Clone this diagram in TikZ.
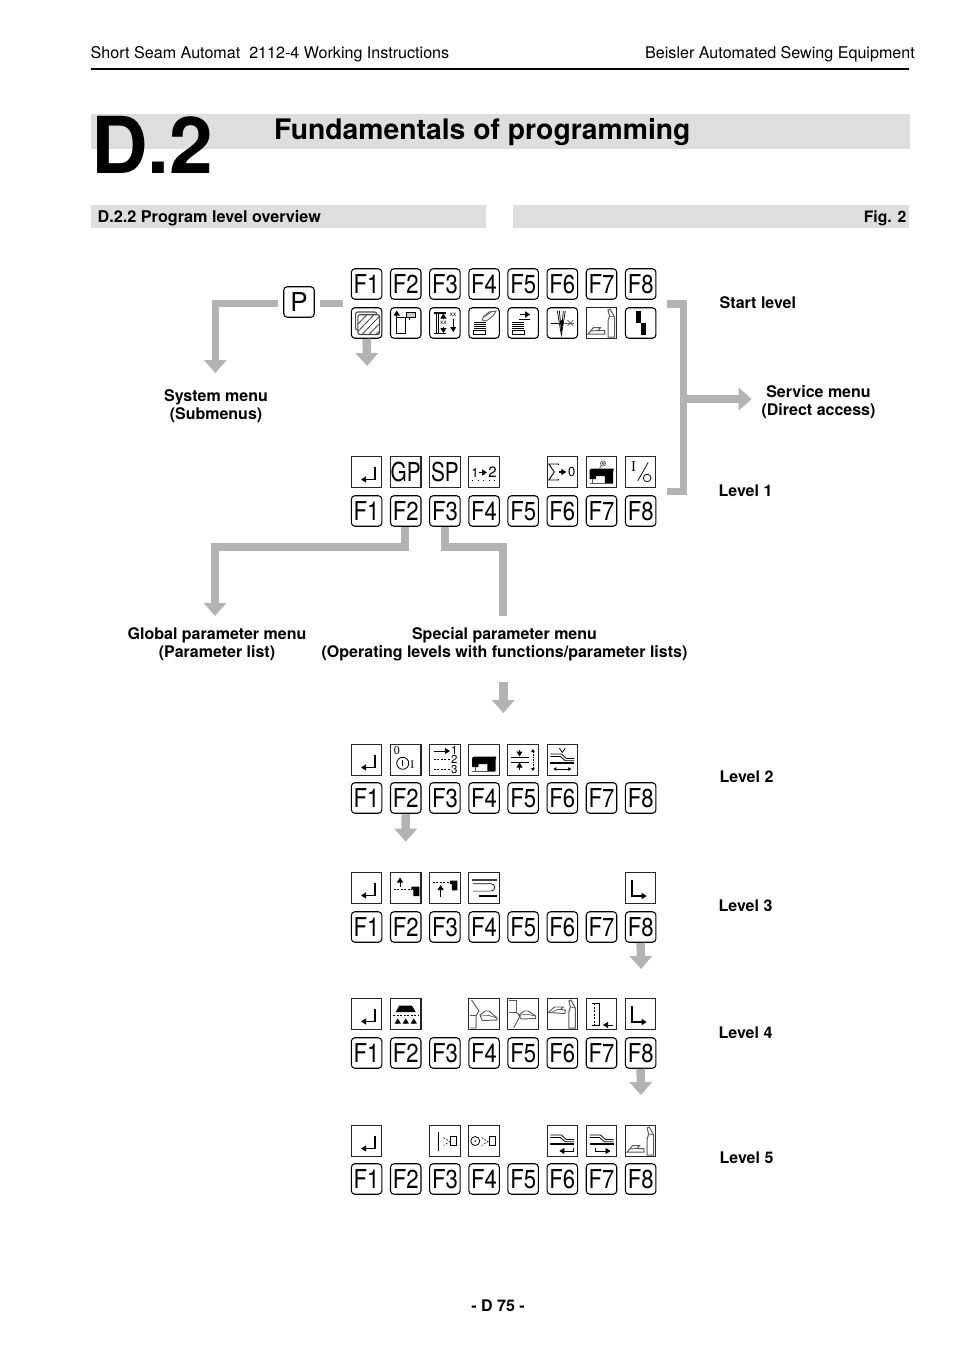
\documentclass[tikz,border=0pt]{standalone}
\usepackage{fontspec}
\usepackage{graphicx}
\setmainfont{TeX Gyre Heros}
\newfontfamily\serifico{Liberation Serif}
\usetikzlibrary{arrows.meta}
\definecolor{barcol}{HTML}{B3B3B3}
\definecolor{bandcol}{HTML}{DEDEDE}
\definecolor{thincol}{HTML}{5A5A5A}
\newcounter{lblno}
\newcommand\lab[4][]{\stepcounter{lblno}\node[name=lbl\arabic{lblno},inner sep=0pt,font=\fontsize{#2}{#2}\selectfont,#1] at (#3) {#4};}
\tikzset{
  fkey/.style={draw=black,line width=1.05pt,rounded corners=3.5pt,minimum width=30.5pt,minimum height=30.5pt,inner sep=0pt,font=\fontsize{26}{26}\selectfont},
  iconrd/.style={draw=black,line width=1.05pt,rounded corners=3.5pt,minimum width=30.5pt,minimum height=30.5pt,inner sep=0pt},
  iconsq/.style={draw=black!85,line width=1.05pt,minimum width=30.5pt,minimum height=30.5pt,inner sep=0pt,font=\fontsize{26}{26}\selectfont},
  graybar/.style={draw=barcol,line width=8pt},
  grayarrow/.style={draw=barcol,line width=8.5pt,-{Triangle[width=22pt,length=13pt,fill=barcol]}},
  sarr/.style={-{Triangle[width=6pt,length=5pt]}},
  hdr/.style={anchor=base west,inner sep=0pt,font=\fontsize{16.1}{19}\selectfont},
  lvl/.style={inner sep=0pt,align=center,font=\bfseries\fontsize{16}{18}\selectfont},
  thn/.style={line width=0.75pt},
  mid/.style={line width=1.25pt},
  gth/.style={draw=thincol,line width=0.85pt},
  dsh/.style={line width=0.65pt,dash pattern=on 2pt off 1.5pt},
}
\newcommand\keyrow[2]{\foreach \n in {1,...,8}{\node[fkey,name=k#1f\n] at ({366.6+39.15*(\n-1)},#2) {\scalebox{.85}[1]{F\n}};}}
\newcommand\ico[5]{\node[#4,name=i#1f#2] at ({366.6+39.15*(#2-1)},#3) {};\begin{scope}[shift={(i#1f#2.center)}]#5\end{scope}}
\newcommand\ITxt[5]{\node[#4,name=i#1f#2] at ({366.6+39.15*(#2-1)},#3) {\scalebox{.8}[1]{#5}};}
% icons
\newcommand\IEnter{\draw[mid,sarr] (8.3,-5.5)--(8.3,7.5)--(-5.5,7.5);}
\newcommand\INext{\draw[mid,sarr] (-8.7,-8)--(-8.7,8)--(6,8);}
\newcommand\IHatch{\draw[line width=1.1pt,draw=black!70,rounded corners=2pt] (-11,-11) rectangle (10,7);
  \fill[white,rounded corners=2pt] (-8.7,-8.3) rectangle (13,11.5);
  \draw[line width=1.1pt,draw=black!70,rounded corners=2pt] (-8.7,-8.3) rectangle (13,11.5);
  \begin{scope}\clip (-8.7,-8.3) rectangle (13,11.5);
  \foreach \d in {-12,-5,2,9,16}{\draw[line width=.8pt,black!75] (\d-7,12)--(\d+13,-9);}\end{scope}}
\newcommand\IFrame{\draw[thn] (-9,10.7)--(-0.7,10.7)--(-0.7,-6)--(-9,-6);\draw[mid,sarr] (-9,11)--(-9,-12.5);
  \draw[thn,fill=gray!40] (1,-10.5) rectangle (9.5,-5.5);\draw[thn] (4,-5.5)--(4,-3);}
\newcommand\IHeight{\draw[mid] (-11,-10)--(1,-10);\draw[line width=1.5pt] (-11,10.5)--(1,10.5);\draw[thn] (-8.5,-10)--(-8.5,10.5);\draw[thn] (-7,-10)--(-7,10.5);
  \draw[thn,sarr] (-1.5,-4)--(-1.5,-9.5);\draw[thn,sarr] (-1.5,4)--(-1.5,10);
  \lab{6.5}{-1.5,0}{xx}\lab{6.5}{8.3,-8}{xx}\draw[thn,sarr] (8.3,-4)--(8.3,9);}
\newcommand\IStack{\foreach \yy in {-1,1,3,5}{\draw[line width=.6pt] (-10.5,\yy)--(1.5,\yy);}\draw[thn] (-10.5,7) rectangle (1,11);}
\newcommand\IStackHand{\IStack\draw[gth] (-2,-3)--(0,-7)--(5,-11)--(12,-12)--(9,-7)--(5,-4)--(2,-2)--cycle;\draw[gth] (-1,-6)--(3,-8)(7,-11)--(3,-8);}
\newcommand\IStackMove{\foreach \yy in {-1,1,3,5}{\draw[line width=.6pt] (-11,\yy)--(1,\yy);}\draw[thn] (-11,7) rectangle (1,11);\draw[line width=1.8pt] (-4,-3.5)--(7,-3.5);\draw[line width=1.2pt,sarr] (-3,-8.5)--(7,-8.5);}
\newcommand\INeedle{\draw[thn] (-11,0)--(-1,0);\draw[thn] (-5,-12)--(-1,12)--(3,-12);\draw[thn] (-3,-12)--(-1,8)--(1,-12);\fill (-1.2,-3.5) rectangle (.8,3);
  \draw[gth] (2,0)--(12,0);\draw[gth,line width=.6pt] (5,-3)--(11,3)(5,3)--(11,-3);}
\newcommand\IFoot[1]{\begin{scope}[#1]\draw[gth,line width=1pt] (-13.5,11)--(-8,4.5)--(-1,4.5)--(-3.5,7.5)--(3,7.5)--(3.5,11)--cycle;\draw[gth,line width=.9pt] (-11,8)--(-3.5,7.5);\end{scope}}
\newcommand\IClamp[1]{\begin{scope}[#1]\draw[gth,line width=1pt] (6.5,14)--(6.5,-2)--(8,-7)--(6.5,-13)--(8.5,-14)--(13,-6)--(13,14)--cycle;\draw[gth,line width=.7pt] (8,-7)--(13,-6);\end{scope}}
\newcommand\IFootClamp{\IFoot{}\IClamp{}}
\newcommand\IStep{\fill (-4.3,-11.7) rectangle (0.7,0);\fill (0.7,0) rectangle (5.7,11.7);}
\newcommand\IOneTwo{\lab{13}{-9,1}{1}\draw[line width=1.2pt,sarr] (-5.5,0.5)--(3,0.5);\lab{15}{8.5,0.5}{2}\draw[line width=.8pt,dash pattern=on 1pt off 4.5pt] (-12,8.7)--(13,8.7);}
\newcommand\ISum{\draw[line width=.9pt] (-4,-7)--(-4,-8)--(-13.5,-8)--(-8,0)--(-13.5,8)--(-4,8)--(-4,7);\draw[line width=1.2pt,sarr] (-3.5,0)--(4,0);\lab{13}{9.5,0}{0}}
\newcommand\IMach{\fill (-12,-2)--(-10,-3.5)--(12,-3.5)--(12,-1)--(11.5,-1)--(11.5,11)--(3.3,11)--(3.3,4)--(-5.7,4)--(-5.7,7)--(-12,7)--cycle;\draw[gth] (-12,11.5)--(11,11.5);\draw[gth] (-9,7)--(-9,11.5);}
\newcommand\IMachSpin{\IMach\draw[gth,line width=.7pt] (1.5,-8.5) circle (2.6);\draw[gth,line width=.7pt] (1.5,-8.5) circle (1);\draw[gth] (-0.5,-6)--(-2,-3.5);}
\newcommand\IIO{\lab[]{15}{-7,-5}{\serifico I}\draw[thn] (-3,9)--(7.5,-9.5);\draw[thn] (6.5,6) circle (3.8);}
\newcommand\IPower{\lab{12}{-9,-9}{\serifico 0}\draw[line width=.85pt] (-3,3.3) circle (6);\draw[line width=1pt] (-3,.3)--(-3,6.3);\lab{11.5}{6.5,5}{\serifico I}}
\newcommand\IThree{\draw[thn,sarr] (-11,-9)--(5,-9);\draw[dsh] (-11,-0.5)--(5,-0.5)(-11,9.5)--(5,9.5);\lab{11.5}{9.5,-10}{1}\lab{11.5}{9.5,-0.5}{2}\lab{11.5}{9.5,9.5}{3}}
\newcommand\IGap{\draw[thn] (-12,-3)--(5.5,-3);\draw[thn] (-12,2)--(5.5,2);\draw[thn,sarr] (-3.7,-10)--(-3.7,-3.5);\draw[thn,sarr] (-3.7,10)--(-3.7,2.5);
  \draw[thn,{Triangle[width=3.5pt,length=3pt]}-{Triangle[width=3.5pt,length=3pt]},dash pattern=on 1.5pt off 1pt] (9.7,-11)--(9.7,11);}
\newcommand\ILayers{\draw[line width=.8pt] (-12,-6)--(-1,-6)--(4,-1.5)--(12,-1.5);\draw[line width=.8pt] (-12,-3.6)--(-2,-3.6)--(3,0.8)--(12,0.8);\draw[line width=1.5pt] (-12,3)--(12,3);}
\newcommand\ILayersV{\draw[thn] (-3,-12)--(0,-7.5)--(3,-12);\ILayers\draw[thn,{Triangle[width=3.5pt,length=3pt]}-{Triangle[width=3.5pt,length=3pt]}] (-9,9)--(9,9);}
\newcommand\ILayersL{\ILayers\draw[thn,sarr] (11,6.5)--(11,10)--(-3,10);}
\newcommand\ILayersR{\ILayers\draw[thn,sarr] (-6,6.5)--(-6,10)--(9,10);}
\newcommand\IBlockA{\draw[thn,sarr] (-5.7,-1)--(-5.7,-10.5);\draw[dsh] (-12,1.3)--(6,1.3);\fill (5.5,-1)--(7.5,-1.5)--(13.5,-1.5)--(13.5,8)--(7.5,8)--(7.5,1.5)--(5.5,1.5)--cycle;}
\newcommand\IBlockB{\draw[dsh] (-12,-5.3)--(5,-5.3);\draw[thn,sarr] (-4.3,9)--(-4.3,-3);\fill (5,-7.5)--(12.5,-7.5)--(12.5,2.3)--(7,2.3)--(7,-4)--(5,-4)--cycle;}
\newcommand\IFold{\draw[line width=1.1pt,draw=black!75] (-12,-8)--(13,-8);\draw[line width=.7pt] (-11,-4.3)--(7,-4.3) arc[start angle=-90,end angle=90,radius=3.7]--(-11,3.1);\draw[line width=1.4pt] (-5,8)--(13,8);}
\newcommand\IFeed{\fill (-6.5,-8.5)--(6,-8.5)--(10,-2)--(-10,-2)--cycle;\draw[dsh] (-12.5,1.5)--(12.5,1.5);\foreach \xx in {-8,0,8}{\draw[thn,sarr] (\xx,9)--(\xx,4.5);\draw[thn] (\xx-2,7.5)--(\xx+2,7.5);}}
\newcommand\IOpenA{\draw[gth,line width=.95pt] (-4,1)--(1,-3)--(5,-3)--(13,4)--(13,6)--(-2,6.5)--cycle;\draw[gth,line width=.7pt] (-4,2)--(5,1.5)--(13,4);
  \draw[gth,line width=.95pt] (-12.5,-14)--(-5,-3)--(-8,1.5)--(-8,14)--(-14,14);\draw[gth,line width=.95pt] (-8,1.5)--(-14,1.5);}
\newcommand\IOpenB{\draw[gth,line width=.95pt] (-14,-14)--(-7,-14)--(-7,-1.5)--(-14,-1.5);\draw[gth,line width=.95pt] (-7,-1.5)--(-3,1.5)--(-9.5,14);
  \draw[gth,line width=.95pt] (-4.5,1)--(1,-3)--(5,-3)--(12.5,2)--(12.5,4.5)--(-2,5)--cycle;\draw[gth,line width=.7pt] (-4.5,1)--(5,0.5)--(12.5,2);}
\newcommand\IOpenC{\draw[gth,line width=.95pt] (-14,-1.5)--(-8,-7)--(1,-7)--(-2,-4.5)--(3,-4)--(2.5,-0.5)--cycle;\draw[gth,line width=.7pt] (-11,-1.5)--(-5,-4.5)--(-2,-4.5);\IClamp{yshift=0pt}}
\newcommand\IRuler{\draw[thn] (-10,-11)--(-2,-11);\draw[thn] (-10,11)--(-2,11);\draw[line width=1.1pt] (-2,-11)--(-2,11);\draw[dsh] (-7.5,-11)--(-7.5,11);\draw[thn,sarr] (11,11)--(1.5,11);}
\newcommand\IEdge{\draw[line width=1.1pt] (-6.5,-9.5)--(-6.5,10);\draw[dsh,line width=.55pt] (-1.5,-3.5)--(5,0.5)--(-1.5,4.5);\draw[thn] (5.5,-4.5) rectangle (11,4.5);}
\newcommand\IHole{\draw[thn] (-8.8,0) circle (4.5);\fill (-8.8,0) circle (.9);\draw[dsh,line width=.55pt] (-2.5,-3.5)--(4,0.5)--(-2.5,4.5);\draw[thn] (5,-4.5) rectangle (11,4.5);}
\begin{document}
\begin{tikzpicture}[x=1pt,y=-1pt]
\useasboundingbox (0,0) rectangle (954,1351);
% header
\node[hdr,name=hl] at (90.5,58.5) {Short Seam Automat\ \ 2112-4 Working Instructions};
\node[hdr,name=hr,anchor=base east] at (915,58.5) {Beisler Automated Sewing Equipment};
\coordinate (ruleL) at (91,69);\coordinate (ruleR) at (909,69);
\draw[line width=2pt] (ruleL)--(ruleR);
\fill[bandcol] (91,114) rectangle (910,149);
\node[inner sep=0pt,anchor=base west,name=dtwo,font=\bfseries\fontsize{78.5}{80}\selectfont] at (91,173.5) {D.2};
\node[inner sep=0pt,anchor=base west,name=ttl,font=\bfseries\fontsize{28.3}{30}\selectfont] at (274,139.5) {Fundamentals of programming};
\fill[bandcol] (91,205) rectangle (486,228);
\fill[bandcol] (513,205) rectangle (909,228);
\node[inner sep=0pt,anchor=base west,name=sub,font=\bfseries\fontsize{16.2}{18}\selectfont] at (97.5,222.5) {D.2.2 Program level overview};
\node[inner sep=0pt,anchor=base east,name=fig,font=\bfseries\fontsize{15.7}{18}\selectfont] at (906.5,222.5) {Fig. 2};
% start level
\node[fkey,name=P] at (299,302) {P};
\keyrow{a}{284}
\ico{a}{1}{323}{iconrd}{\IHatch}
\ico{a}{2}{323}{iconrd}{\IFrame}
\ico{a}{3}{323}{iconrd}{\IHeight}
\ico{a}{4}{323}{iconrd}{\IStackHand}
\ico{a}{5}{323}{iconrd}{\IStackMove}
\ico{a}{6}{323}{iconrd}{\INeedle}
\ico{a}{7}{323}{iconsq}{\IFootClamp}
\ico{a}{8}{323}{iconrd}{\IStep}
% level 1
\ico{b}{1}{472}{iconsq}{\IEnter}
\ITxt{b}{2}{472}{iconsq}{GP}
\ITxt{b}{3}{472}{iconsq}{SP}
\ico{b}{4}{472}{iconsq}{\IOneTwo}
\ico{b}{6}{472}{iconsq}{\ISum}
\ico{b}{7}{472}{iconsq}{\IMachSpin}
\ico{b}{8}{472}{iconsq}{\IIO}
\keyrow{b}{511}
% level 2
\ico{c}{1}{760}{iconsq}{\IEnter}
\ico{c}{2}{760}{iconsq}{\IPower}
\ico{c}{3}{760}{iconsq}{\IThree}
\ico{c}{4}{760}{iconsq}{\IMach}
\ico{c}{5}{760}{iconsq}{\IGap}
\ico{c}{6}{760}{iconsq}{\ILayersV}
\keyrow{c}{798}
% level 3
\ico{d}{1}{888}{iconsq}{\IEnter}
\ico{d}{2}{888}{iconsq}{\IBlockA}
\ico{d}{3}{888}{iconsq}{\IBlockB}
\ico{d}{4}{888}{iconsq}{\IFold}
\ico{d}{8}{888}{iconsq}{\INext}
\keyrow{d}{927}
% level 4
\ico{e}{1}{1014}{iconsq}{\IEnter}
\ico{e}{2}{1014}{iconsq}{\IFeed}
\ico{e}{4}{1014}{iconsq}{\IOpenA}
\ico{e}{5}{1014}{iconsq}{\IOpenB}
\ico{e}{6}{1014}{iconsq}{\IOpenC}
\ico{e}{7}{1014}{iconsq}{\IRuler}
\ico{e}{8}{1014}{iconsq}{\INext}
\keyrow{e}{1053}
% level 5
\ico{f}{1}{1141}{iconsq}{\IEnter}
\ico{f}{3}{1141}{iconsq}{\IEdge}
\ico{f}{4}{1141}{iconsq}{\IHole}
\ico{f}{6}{1141}{iconsq}{\ILayersL}
\ico{f}{7}{1141}{iconsq}{\ILayersR}
\ico{f}{8}{1141}{iconsq}{\IFootClamp}
\keyrow{f}{1179}
% labels
\node[lvl,name=lstart,anchor=base west] at (719.5,308) {Start level};
\node[lvl,name=lone,anchor=base west] at (718.5,496) {Level 1};
\node[lvl,name=lsys] at (216,406.5) {System menu\\(Submenus)};
\node[lvl,name=lserv] at (818.5,402.5) {Service menu\\(Direct access)};
\node[lvl,name=lglob,align=center] at (217,644.5) {Global parameter menu\\(Parameter list)};
\node[lvl,name=lspec,align=center] at (504.5,644.7) {Special parameter menu\\(Operating levels with functions/parameter lists)};
\node[lvl,name=ltwo,anchor=base west] at (719.5,782) {Level 2};
\node[lvl,name=lthree,anchor=base west] at (718.5,911) {Level 3};
\node[lvl,name=lfour,anchor=base west] at (718.5,1038) {Level 4};
\node[lvl,name=lfive,anchor=base west] at (719.5,1163) {Level 5};
\node[lvl,name=foot] at (498,1305.5) {- D 75 -};
% connectors
\coordinate (sysEnd) at (215.3,373);
\draw[grayarrow,line width=7.5pt] ([shift={(-5.5,1.5)}]P.west) -| (sysEnd);
\coordinate (pRight) at (343,303.5);
\draw[graybar,line width=7.5pt] ([shift={(5,1.5)}]P.east) -- (pRight);
\coordinate (a1end) at (367.2,366);
\draw[grayarrow] (iaf1.south) -- (a1end);
\coordinate (brTop) at (666.7,304);\coordinate (brBot) at (666.7,491.5);\coordinate (brV) at (683.5,399);\coordinate (servEnd) at (751.7,399);
\draw[graybar,line width=7.6pt] (brTop) -- (brV |- brTop) -- (brV |- brBot) -- (brBot);
\draw[grayarrow,line width=8pt] (brV) -- (servEnd);
\coordinate (globEnd) at (215,616);\coordinate (gTurn) at (404.7,546.7);
\draw[grayarrow,line width=8pt] (gTurn |- kbf2.south) -- (gTurn) -| (globEnd);
\coordinate (specEnd) at (503.3,616);\coordinate (sTurn) at (444.8,546.7);
\draw[graybar] (sTurn |- kbf3.south) -- (sTurn) -| (specEnd);
\coordinate (midA) at (503.3,682);\coordinate (midB) at (503.3,713);
\draw[grayarrow] (midA) -- (midB);
\coordinate (c2end) at (405.7,841.7);
\draw[grayarrow] (kcf2.south) -- (c2end);
\coordinate (d8end) at (641,969);
\draw[grayarrow] (kdf8.south) -- (d8end);
\coordinate (e8end) at (641,1095);
\draw[grayarrow] (kef8.south) -- (e8end);
\end{tikzpicture}
\end{document}
